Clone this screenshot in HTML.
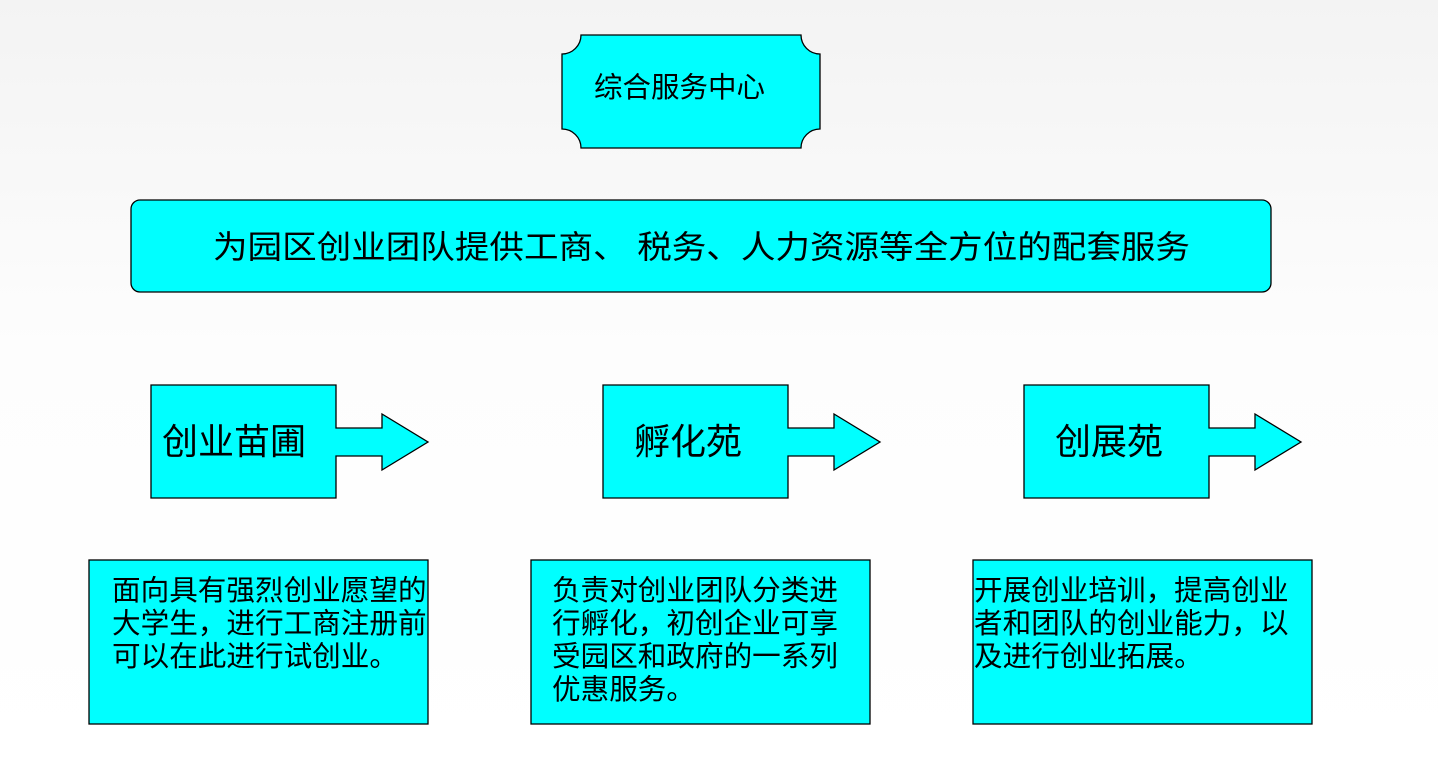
<!DOCTYPE html>
<html><head><meta charset="utf-8"><style>
html,body{margin:0;padding:0;}
body{width:1438px;height:768px;overflow:hidden;background:linear-gradient(#f3f3f3 0%,#fdfdfd 45%,#ffffff 100%);}
svg{display:block;}
text{font-family:"Liberation Sans","Noto Sans CJK SC",sans-serif;fill:#000;}
</style></head><body>
<svg width="1438" height="768" viewBox="0 0 1438 768">
<g fill="#00ffff" stroke="#000" stroke-width="1.3">
<path d="M581,35 H801 A19,19 0 0 0 820,54 V129 A19,19 0 0 0 801,148 H581 A19,19 0 0 0 562,129 V54 A19,19 0 0 0 581,35 Z"/>
<rect x="131" y="200" width="1140" height="92" rx="9"/>
<path d="M151,385 H336 V428 H382 V414 L428,442 L382,470 V456 H336 V498 H151 Z"/>
<path d="M603,385 H788 V428 H834 V414 L880,442 L834,470 V456 H788 V498 H603 Z"/>
<path d="M1024,385 H1209 V428 H1255 V414 L1301,442 L1255,470 V456 H1209 V498 H1024 Z"/>
<rect x="89" y="560" width="339" height="164"/>
<rect x="531" y="560" width="339" height="164"/>
<rect x="973" y="560" width="339" height="164"/>
</g>
<text x="594" y="97" font-size="28.5">综合服务中心</text>
<text x="213" y="258" font-size="32" textLength="977" lengthAdjust="spacingAndGlyphs">为园区创业团队提供工商、 税务、人力资源等全方位的配套服务</text>
<text x="162" y="454" font-size="36">创业苗圃</text>
<text x="634" y="454" font-size="36">孵化苑</text>
<text x="1055" y="454" font-size="36">创展苑</text>
<g font-size="28.6">
<text x="112" y="600">面向具有强烈创业愿望的</text>
<text x="112" y="633">大学生，进行工商注册前</text>
<text x="112" y="666">可以在此进行试创业。</text>
<text x="552" y="600">负责对创业团队分类进</text>
<text x="552" y="633">行孵化，初创企业可享</text>
<text x="552" y="666">受园区和政府的一系列</text>
<text x="552" y="699">优惠服务。</text>
<text x="974" y="600">开展创业培训，提高创业</text>
<text x="974" y="633">者和团队的创业能力，以</text>
<text x="974" y="666">及进行创业拓展。</text>
</g>
</svg>
</body></html>
